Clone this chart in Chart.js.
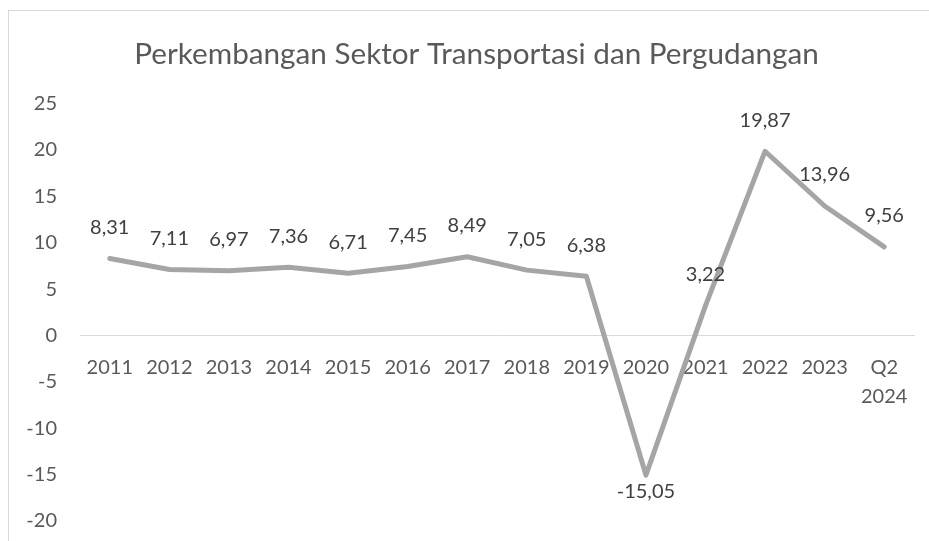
<!DOCTYPE html>
<html>
<head>
<meta charset="utf-8">
<script src="https://cdn.jsdelivr.net/npm/chart.js@4.4.0/dist/chart.umd.min.js"></script>
<style>
  html, body { margin: 0; padding: 0; background: #fff; overflow: hidden; width: 929px; height: 541px; }
  #frame { position: absolute; left: 8px; top: 10px; border: 1px solid #d9d9d9; width: 935px; height: 560px; }
  #chart { display: block; }
</style>
</head>
<body>
<div id="frame"><canvas id="chart" width="935" height="545"></canvas></div>
<script>
// data
const years = ['2011', '2012', '2013', '2014', '2015', '2016', '2017', '2018', '2019', '2020', '2021', '2022', '2023', ['Q2', '2024']];
const growth = [8.31, 7.11, 6.97, 7.36, 6.71, 7.45, 8.49, 7.05, 6.38, -15.05, 3.22, 19.87, 13.96, 9.56];
const yMin = -20;
const yMax = 25;
const yStep = 5;

const fontFamily = 'Lato, "Open Sans", sans-serif';

// simple value labels, above the point (below when negative)
const valueLabels = {
    id: 'valueLabels',
    afterDatasetsDraw(chart) {
        const ctx = chart.ctx;
        const meta = chart.getDatasetMeta(0);
        const values = chart.data.datasets[0].data;
        ctx.save();
        ctx.font = '20px ' + fontFamily;
        ctx.fillStyle = '#404040';
        ctx.textAlign = 'center';
        ctx.textBaseline = 'middle';
        meta.data.forEach((pt, i) => {
            const v = values[i];
            const text = v.toFixed(2).replace('.', ',');
            const y = v < 0 ? pt.y + 16 : pt.y - 31;
            ctx.fillText(text, pt.x, y);
        });
        ctx.restore();
    }
};

new Chart(document.getElementById('chart').getContext('2d'), {
    type: 'line',
    data: {
        labels: years,
        datasets: [{
            label: 'Pertumbuhan',
            data: growth,
            borderColor: '#a5a5a5',
            borderWidth: 5,
            borderJoinStyle: 'round',
            borderCapStyle: 'round',
            pointRadius: 0,
            tension: 0,
            fill: false
        }]
    },
    options: {
        responsive: false,
        animation: false,
        devicePixelRatio: 1,
        layout: { padding: { left: 0, right: 0, top: 0, bottom: 0 } },
        plugins: {
            legend: { display: false },
            tooltip: { enabled: false },
            title: {
                display: true,
                text: 'Perkembangan Sektor Transportasi dan Pergudangan',
                color: '#595959',
                font: { family: fontFamily, size: 29.7, weight: 'normal', lineHeight: 1.2 },
                padding: { top: 26, bottom: 31 }
            }
        },
        scales: {
            x: {
                position: { y: 0 },
                offset: true,
                grid: { display: false, drawTicks: false },
                border: { display: true, color: '#d9d9d9', width: 1 },
                ticks: {
                    color: '#595959',
                    font: { family: fontFamily, size: 20, lineHeight: 1.45 },
                    padding: 18,
                    maxRotation: 0,
                    autoSkip: false
                }
            },
            y: {
                min: yMin,
                max: yMax,
                grid: { display: false, drawTicks: false },
                border: { display: false },
                afterFit: s => { s.width = 71; },
                ticks: {
                    stepSize: yStep,
                    color: '#595959',
                    font: { family: fontFamily, size: 20 },
                    padding: 23
                }
            },
            // empty right axis, keeps the right margin so the title stays centred on the frame
            yRight: {
                axis: 'y',
                position: 'right',
                min: yMin,
                max: yMax,
                grid: { display: false, drawTicks: false },
                border: { display: false },
                ticks: { display: false },
                afterFit: s => { s.width = 30; }
            }
        }
    },
    plugins: [valueLabels]
});
</script>
</body>
</html>
